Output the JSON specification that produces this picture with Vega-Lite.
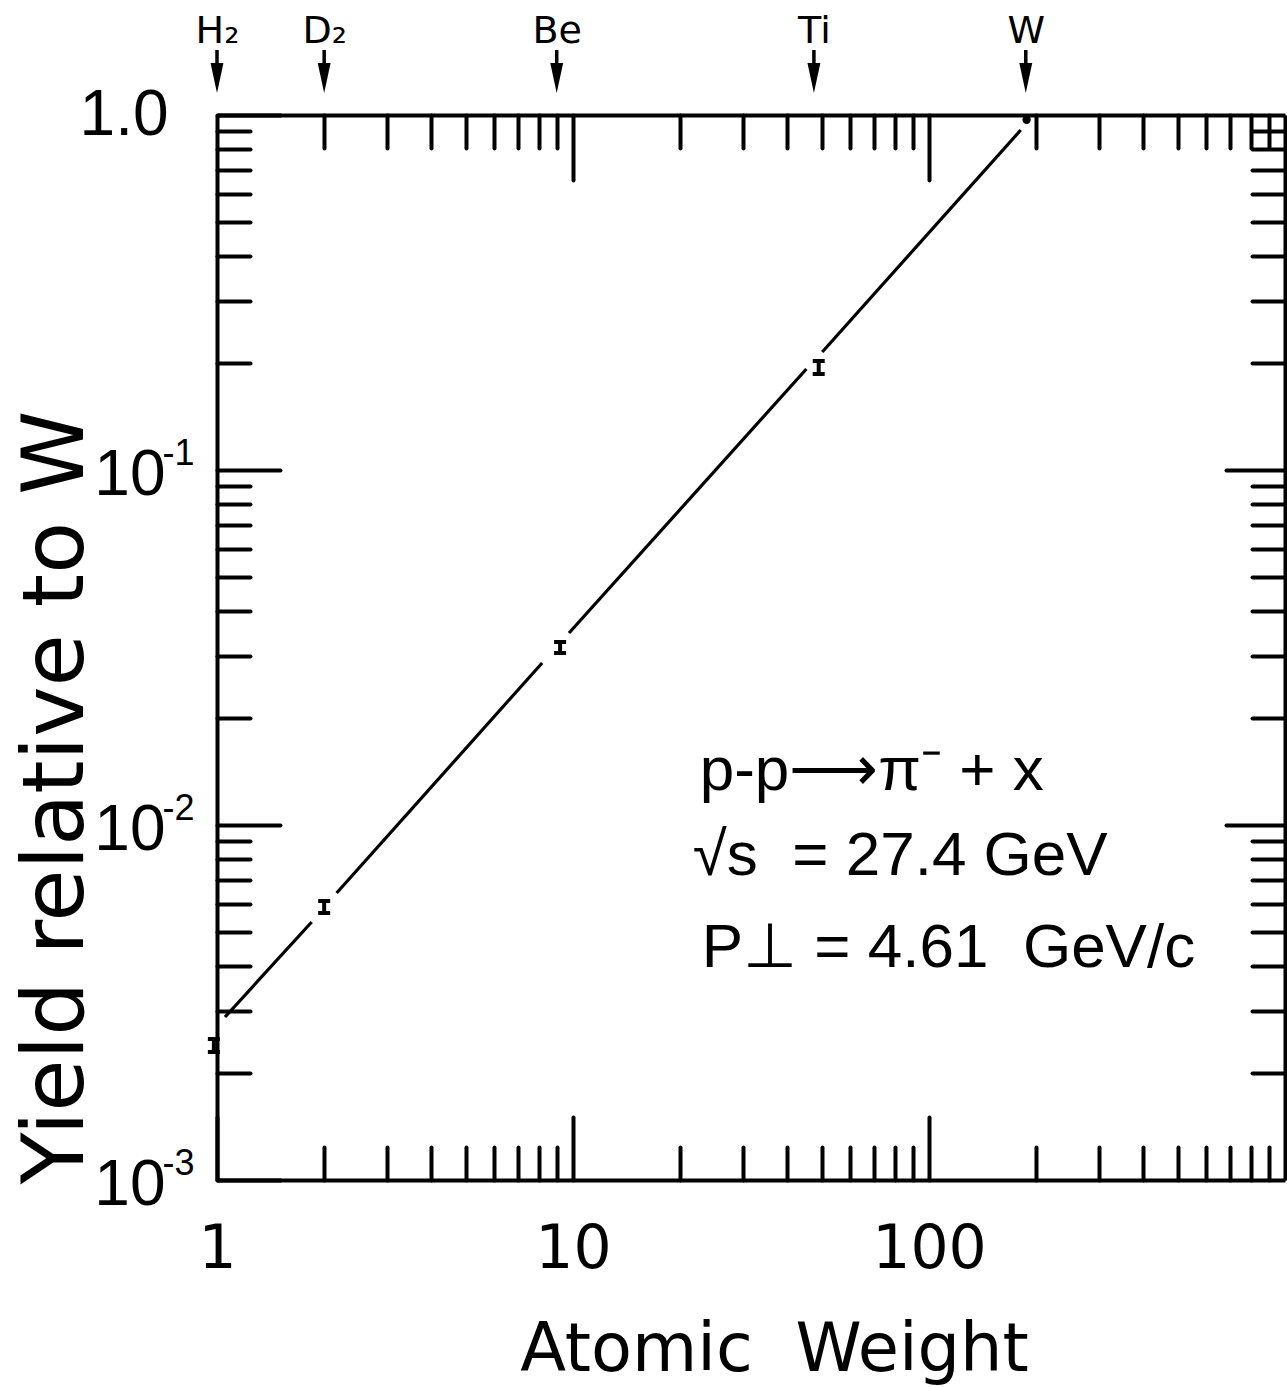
{
  "$schema": "https://vega.github.io/schema/vega-lite/v6.json",
  "width": 1068,
  "height": 1065,
  "padding": {"left": 217, "top": 115, "right": 2, "bottom": 207},
  "autosize": {"type": "none"},
  "background": "white",
  "config": {
    "view": {"stroke": null},
    "axis": {
      "grid": false,
      "domainColor": "black",
      "tickColor": "black",
      "labelColor": "black",
      "titleColor": "black",
      "domainWidth": 4,
      "tickWidth": 4,
      "tickCap": "round",
      "labelFont": "DejaVu Sans",
      "titleFont": "DejaVu Sans",
      "titleFontWeight": "normal",
      "labelFlush": false,
      "labelOverlap": false
    }
  },
  "datasets": {
    "fit": [
      {"seg": 1, "A": 1.053, "Y": 0.002878},
      {"seg": 1, "A": 1.845, "Y": 0.005329},
      {"seg": 2, "A": 2.168, "Y": 0.006434},
      {"seg": 2, "A": 8.189, "Y": 0.0286},
      {"seg": 3, "A": 9.745, "Y": 0.03474},
      {"seg": 3, "A": 45.24, "Y": 0.1925},
      {"seg": 4, "A": 50.14, "Y": 0.215},
      {"seg": 4, "A": 181.0, "Y": 0.9073}
    ],
    "pts": [
      {"target": "H2", "A": 0.98, "Y": 0.002392, "lo": 0.002294, "hi": 0.002496},
      {"target": "D2", "A": 2.0, "Y": 0.005876, "lo": 0.005651, "hi": 0.006107},
      {"target": "Be", "A": 9.2, "Y": 0.03162, "lo": 0.03051, "hi": 0.03277},
      {"target": "Ti", "A": 49.0, "Y": 0.1944, "lo": 0.1864, "hi": 0.2028}
    ],
    "wpt": [{"target": "W", "A": 188, "Y": 0.97}],
    "targets": [
      {"name": "H₂", "A": 1.0},
      {"name": "D₂", "A": 2.0},
      {"name": "Be", "A": 9.0},
      {"name": "Ti", "A": 47.5},
      {"name": "W", "A": 187}
    ],
    "notes": [
      {"A": 22.7, "Y": 0.01255, "t": "p-p⟶π⁻ + x"},
      {"A": 21.7, "Y": 0.007233, "t": "√s\u00a0\u00a0= 27.4 GeV"},
      {"A": 23.0, "Y": 0.003981, "t": "P⊥ = 4.61\u00a0\u00a0GeV/c"}
    ]
  },
  "resolve": {"axis": {"x": "independent", "y": "independent"}},
  "layer": [
    {
      "data": {"name": "fit"},
      "mark": {"type": "line", "color": "black", "strokeWidth": 3.2},
      "encoding": {
        "x": {"field": "A", "type": "quantitative",
          "scale": {"type": "log", "domain": [1, 1000], "nice": false},
          "axis": {"orient": "bottom", "values": [2,3,4,5,6,7,8,9,20,30,40,50,60,70,80,90,200,300,400,500,600,700,800,900], "tickSize": -33, "labels": false, "title": null}},
        "y": {"field": "Y", "type": "quantitative",
          "scale": {"type": "log", "domain": [0.001, 1], "nice": false},
          "axis": {"orient": "left", "values": [0.002,0.003,0.004,0.005,0.006,0.007,0.008,0.009,0.02,0.03,0.04,0.05,0.06,0.07,0.08,0.09,0.2,0.3,0.4,0.5,0.6,0.7,0.8,0.9], "tickSize": -33, "labels": false, "title": null}},
        "detail": {"field": "seg", "type": "nominal"}
      }
    },
    {
      "data": {"name": "pts"},
      "mark": {"type": "rule", "color": "black", "strokeWidth": 4},
      "encoding": {
        "x": {"field": "A", "type": "quantitative",
          "scale": {"type": "log", "domain": [1, 1000], "nice": false},
          "axis": {"orient": "top", "values": [2,3,4,5,6,7,8,9,20,30,40,50,60,70,80,90,200,300,400,500,600,700,800,900], "tickSize": -33, "labels": false, "title": null}},
        "y": {"field": "lo", "type": "quantitative",
          "scale": {"type": "log", "domain": [0.001, 1], "nice": false},
          "axis": {"orient": "right", "values": [0.002,0.003,0.004,0.005,0.006,0.007,0.008,0.009,0.02,0.03,0.04,0.05,0.06,0.07,0.08,0.09,0.2,0.3,0.4,0.5,0.6,0.7,0.8,0.9], "tickSize": -33, "labels": false, "title": null}},
        "y2": {"field": "hi"}
      }
    },
    {
      "data": {"name": "pts"},
      "mark": {"type": "tick", "color": "black", "opacity": 1, "orient": "horizontal", "size": 12, "thickness": 4},
      "encoding": {
        "x": {"field": "A", "type": "quantitative",
          "scale": {"type": "log", "domain": [1, 1000], "nice": false},
          "axis": {"orient": "bottom", "values": [1, 10, 100], "tickSize": -63, "labelPadding": 103, "labelFontSize": 60,
            "labelExpr": "datum.value < 5 ? '1' : datum.value < 50 ? '10' : '100'",
            "domain": false,
            "title": "Atomic\u00a0\u00a0Weight", "titleFontSize": 67, "titleX": 557, "titleY": 190, "titleBaseline": "alphabetic", "titleAlign": "center"}},
        "y": {"field": "lo", "type": "quantitative",
          "scale": {"type": "log", "domain": [0.001, 1], "nice": false},
          "axis": {"orient": "left", "values": [0.001, 0.01, 0.1, 1], "tickSize": -63, "labelPadding": 115, "labelFont": "Liberation Sans", "labelFontSize": 64, "labelAlign": "right", "labelBaseline": "middle", "labelOffset": 5,
            "labelExpr": "datum.value > 0.5 ? '' : '10'",
            "domain": false,
            "title": "Yield relative to W", "titleFontSize": 85, "titleX": -135, "titleY": 682, "titleAngle": 270, "titleBaseline": "alphabetic", "titleAlign": "center"}}
      }
    },
    {
      "data": {"name": "pts"},
      "mark": {"type": "tick", "color": "black", "opacity": 1, "orient": "horizontal", "size": 12, "thickness": 4},
      "encoding": {
        "x": {"field": "A", "type": "quantitative",
          "scale": {"type": "log", "domain": [1, 1000], "nice": false},
          "axis": {"orient": "top", "values": [10, 100], "tickSize": -65, "labels": false, "domain": false, "title": null}},
        "y": {"field": "hi", "type": "quantitative",
          "scale": {"type": "log", "domain": [0.001, 1], "nice": false},
          "axis": {"orient": "right", "values": [0.01, 0.1], "tickSize": -59, "labels": false, "domain": false, "title": null}}
      }
    },
    {
      "data": {"name": "wpt"},
      "mark": {"type": "circle", "color": "black", "size": 70, "opacity": 1},
      "encoding": {
        "x": {"field": "A", "type": "quantitative",
          "scale": {"type": "log", "domain": [1, 1000], "nice": false},
          "axis": {"orient": "top", "values": [1, 2, 9, 47.5, 187], "ticks": false, "domain": false, "labelPadding": 73, "labelBaseline": "alphabetic", "labelFontSize": 38,
            "labelExpr": "datum.value < 1.5 ? 'H₂' : datum.value < 3 ? 'D₂' : datum.value < 20 ? 'Be' : datum.value < 100 ? 'Ti' : 'W'",
            "title": null}},
        "y": {"field": "Y", "type": "quantitative",
          "scale": {"type": "log", "domain": [0.001, 1], "nice": false},
          "axis": {"orient": "left", "values": [1], "ticks": false, "domain": false, "labelPadding": 49, "labelFont": "Liberation Sans", "labelFontSize": 64, "labelAlign": "right", "labelBaseline": "middle",
            "labelExpr": "'1.0'", "title": null}}
      }
    },
    {
      "data": {"name": "targets"},
      "mark": {"type": "rule", "color": "black", "strokeWidth": 3.5, "yOffset": -65, "y2Offset": -45},
      "encoding": {
        "x": {"field": "A", "type": "quantitative",
          "scale": {"type": "log", "domain": [1, 1000], "nice": false}, "axis": null},
        "y": {"datum": 1, "type": "quantitative",
          "scale": {"type": "log", "domain": [0.001, 1], "nice": false},
          "axis": {"orient": "left", "values": [0.001, 0.01, 0.1], "ticks": false, "domain": false, "labelPadding": 23, "labelFont": "Liberation Sans", "labelFontSize": 36, "labelAlign": "right", "labelBaseline": "middle", "labelOffset": -17,
            "labelExpr": "datum.value > 0.05 ? '-1' : datum.value > 0.005 ? '-2' : '-3'", "title": null}},
        "y2": {"datum": 1}
      }
    },
    {
      "data": {"name": "targets"},
      "mark": {"type": "point", "shape": "M-0.43,-1L0.43,-1L0,1Z", "size": 900, "filled": true, "color": "black", "opacity": 1, "yOffset": -37},
      "encoding": {
        "x": {"field": "A", "type": "quantitative",
          "scale": {"type": "log", "domain": [1, 1000], "nice": false}, "axis": null},
        "y": {"datum": 1, "type": "quantitative",
          "scale": {"type": "log", "domain": [0.001, 1], "nice": false}, "axis": null}
      }
    },
    {
      "data": {"name": "notes"},
      "mark": {"type": "text", "font": "Liberation Sans", "fontSize": 62, "align": "left", "baseline": "alphabetic", "color": "black"},
      "encoding": {
        "x": {"field": "A", "type": "quantitative",
          "scale": {"type": "log", "domain": [1, 1000], "nice": false}, "axis": null},
        "y": {"field": "Y", "type": "quantitative",
          "scale": {"type": "log", "domain": [0.001, 1], "nice": false}, "axis": null},
        "text": {"field": "t", "type": "nominal"}
      }
    }
  ]
}
